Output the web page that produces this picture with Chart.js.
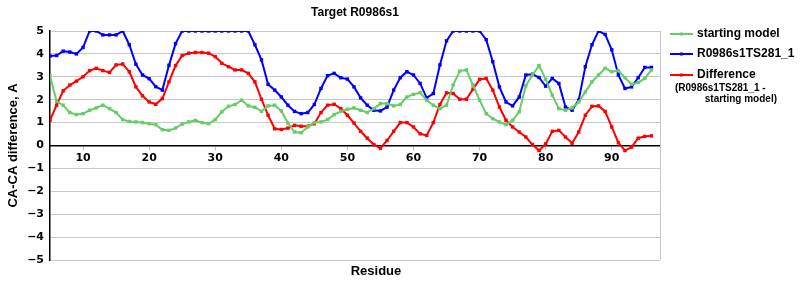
<!DOCTYPE html>
<html>
<head>
<meta charset="utf-8">
<script src="https://cdn.jsdelivr.net/npm/chart.js@4"></script>
<style>
  html, body { margin: 0; padding: 0; background: #fff; }
  #wrap { position: relative; width: 800px; height: 300px; }
</style>
</head>
<body>
<div id="wrap"><canvas id="caChart" width="800" height="300"></canvas></div>
<script>
  // Residue numbers
  const residues = [
    5, 6, 7, 8, 9, 10, 11, 12, 13, 14, 15, 16, 17, 18, 19, 20, 21, 22, 23, 24,
    25, 26, 27, 28, 29, 30, 31, 32, 33, 34, 35, 36, 37, 38, 39, 40, 41, 42, 43, 44,
    45, 46, 47, 48, 49, 50, 51, 52, 53, 54, 55, 56, 57, 58, 59, 60, 61, 62, 63, 64,
    65, 66, 67, 68, 69, 70, 71, 72, 73, 74, 75, 76, 77, 78, 79, 80, 81, 82, 83, 84,
    85, 86, 87, 88, 89, 90, 91, 92, 93, 94, 95, 96
  ];

  // starting model
  const startingModel = [
    3.05, 1.93, 1.76, 1.44, 1.35, 1.39, 1.54, 1.64, 1.76, 1.61, 1.44, 1.13, 1.05, 1.03, 1.0, 0.95, 0.91, 0.69, 0.66, 0.76,
    0.94, 1.03, 1.1, 1.0, 0.95, 1.13, 1.47, 1.71, 1.79, 1.98, 1.73, 1.67, 1.49, 1.73, 1.76, 1.51, 0.98, 0.59, 0.56, 0.81,
    1.0, 1.03, 1.13, 1.35, 1.49, 1.58, 1.64, 1.54, 1.44, 1.61, 1.83, 1.83, 1.73, 1.79, 2.12, 2.23, 2.31, 1.98, 1.76, 1.61,
    1.76, 2.64, 3.25, 3.3, 2.64, 1.98, 1.39, 1.17, 1.03, 0.91, 1.1, 1.47, 2.61, 3.08, 3.49, 2.89, 2.2, 1.61, 1.54, 1.64,
    1.9, 2.34, 2.78, 3.08, 3.37, 3.22, 3.27, 2.96, 2.67, 2.75, 2.93, 3.3
  ];

  // R0986s1TS281_1
  const model281 = [
    3.91, 3.93, 4.12, 4.08, 4.0, 4.28, 5.0, 5.0, 4.83, 4.83, 4.83, 5.0, 4.4, 3.55, 3.08, 2.92, 2.57, 2.42, 3.5, 4.45,
    5.0, 5.0, 5.0, 5.0, 5.0, 5.0, 5.0, 5.0, 5.0, 5.0, 5.0, 4.4, 3.74, 2.67, 2.42, 2.12, 1.76, 1.49, 1.39, 1.44,
    1.79, 2.49, 3.05, 3.15, 2.96, 2.9, 2.56, 2.08, 1.76, 1.54, 1.51, 1.68, 2.42, 2.96, 3.22, 3.08, 2.71, 2.08, 2.27, 3.52,
    4.57, 5.0, 5.0, 5.0, 5.0, 5.0, 4.62, 3.66, 2.56, 1.9, 1.73, 2.12, 3.08, 3.11, 2.97, 2.59, 2.93, 2.71, 1.68, 1.54,
    1.98, 3.44, 4.4, 5.0, 4.85, 4.18, 3.08, 2.49, 2.56, 2.96, 3.41, 3.41
  ];

  // Difference (R0986s1TS281_1 - starting model)
  const difference = [
    1.1, 1.76, 2.39, 2.64, 2.81, 3.0, 3.27, 3.37, 3.27, 3.19, 3.52, 3.56, 3.22, 2.56, 2.17, 1.9, 1.8, 2.05, 2.78, 3.49,
    3.93, 4.03, 4.06, 4.06, 4.03, 3.88, 3.59, 3.44, 3.3, 3.3, 3.15, 2.78, 2.02, 1.32, 0.73, 0.7, 0.76, 0.88, 0.84, 0.84,
    0.95, 1.44, 1.76, 1.8, 1.61, 1.32, 0.98, 0.62, 0.32, 0.04, -0.12, 0.22, 0.62, 1.0, 1.0, 0.81, 0.51, 0.44, 1.0, 1.79,
    2.3, 2.27, 2.02, 2.02, 2.46, 2.89, 2.93, 2.42, 1.68, 1.1, 0.81, 0.59, 0.37, 0.04, -0.22, 0.07, 0.62, 0.66, 0.37, 0.1,
    0.59, 1.32, 1.71, 1.73, 1.49, 0.81, 0.12, -0.22, -0.07, 0.32, 0.4, 0.42
  ];

  const xTicks = [10, 20, 30, 40, 50, 60, 70, 80, 90];
  const yTicks = [-5, -4, -3, -2, -1, 0, 1, 2, 3, 4, 5];

  const GREEN = '#66cc66';
  const BLUE = '#0000ff';
  const RED = '#ff0000';
  const GRID = '#c8c8c8';

  function points(values) {
    return residues.map((r, i) => ({ x: r, y: values[i] }));
  }

  function lineSet(label, values, color) {
    return {
      label: label,
      data: points(values),
      borderColor: color,
      backgroundColor: color,
      borderWidth: 2,
      pointStyle: 'rect',
      pointRadius: 1,
      pointHoverRadius: 1,
      tension: 0
    };
  }

  // title, legend, x title and right frame line
  const decorations = {
    id: 'decorations',
    afterDraw(chart) {
      const ctx = chart.ctx;
      const area = chart.chartArea;
      ctx.save();

      ctx.strokeStyle = GRID;
      ctx.lineWidth = 1;
      ctx.beginPath();
      ctx.moveTo(area.right + 0.5, area.top);
      ctx.lineTo(area.right + 0.5, area.bottom);
      ctx.stroke();

      ctx.fillStyle = '#000';
      ctx.textBaseline = 'middle';
      ctx.textAlign = 'center';
      ctx.font = 'bold 12px "Liberation Sans", Arial, sans-serif';
      ctx.fillText('Target R0986s1', (area.left + area.right) / 2, 13);

      ctx.font = 'bold 13px "Liberation Sans", Arial, sans-serif';
      ctx.fillText('Residue', 376, 271);

      const items = [
        { text: 'starting model', color: GREEN, y: 34 },
        { text: 'R0986s1TS281_1', color: BLUE, y: 54 },
        { text: 'Difference', color: RED, y: 75 }
      ];
      ctx.textAlign = 'left';
      items.forEach(it => {
        ctx.strokeStyle = it.color;
        ctx.lineWidth = 2;
        ctx.beginPath();
        ctx.moveTo(670, it.y);
        ctx.lineTo(693, it.y);
        ctx.stroke();
        ctx.fillStyle = it.color;
        ctx.fillRect(680, it.y - 1.5, 3, 3);
        ctx.fillStyle = '#000';
        ctx.font = 'bold 12px "Liberation Sans", Arial, sans-serif';
        ctx.fillText(it.text, 697, it.y);
      });
      ctx.font = 'bold 10px "Liberation Sans", Arial, sans-serif';
      ctx.fillText('(R0986s1TS281_1 -', 675, 88);
      ctx.textAlign = 'right';
      ctx.fillText('starting model)', 777, 99);

      ctx.restore();
    }
  };

  const caConfig = {
    type: 'line',
    data: {
      datasets: [
        lineSet('starting model', startingModel, GREEN),
        lineSet('R0986s1TS281_1', model281, BLUE),
        lineSet('Difference', difference, RED)
      ]
    },
    options: {
      responsive: false,
      animation: false,
      layout: { padding: { top: 31, right: 140, bottom: 40, left: 0 } },
      plugins: {
        legend: { display: false },
        title: { display: false },
        tooltip: { enabled: false }
      },
      scales: {
        x: {
          type: 'linear',
          position: { y: 0 },
          min: 5,
          max: 97.3,
          afterBuildTicks: (scale) => { scale.ticks = xTicks.map(v => ({ value: v })); },
          grid: { display: true, drawOnChartArea: false, drawTicks: true, tickLength: 4, color: GRID },
          border: { color: '#000', width: 1.5 },
          ticks: {
            color: '#000',
            padding: 2,
            maxRotation: 0,
            font: { family: '"DejaVu Sans", Verdana, sans-serif', size: 11, weight: 'bold' }
          }
        },
        y: {
          min: -5,
          max: 5,
          afterBuildTicks: (scale) => { scale.ticks = yTicks.map(v => ({ value: v })); },
          afterFit: (scale) => { scale.width = 50; },
          grid: { color: GRID, drawTicks: false },
          border: { color: '#000', width: 1.5 },
          ticks: {
            color: '#000',
            padding: 6,
            font: { family: '"DejaVu Sans", Verdana, sans-serif', size: 11, weight: 'bold' },
            callback: (v) => String(v).replace('-', '\u2212')
          },
          title: {
            display: true,
            text: 'CA-CA difference, A',
            color: '#000',
            padding: { top: 6, bottom: 0 },
            font: { family: '"Liberation Sans", Arial, sans-serif', size: 13, weight: 'bold' }
          }
        }
      }
    },
    plugins: [decorations]
  };

  const caChart = new Chart(document.getElementById('caChart'), caConfig);
</script>
</body>
</html>
